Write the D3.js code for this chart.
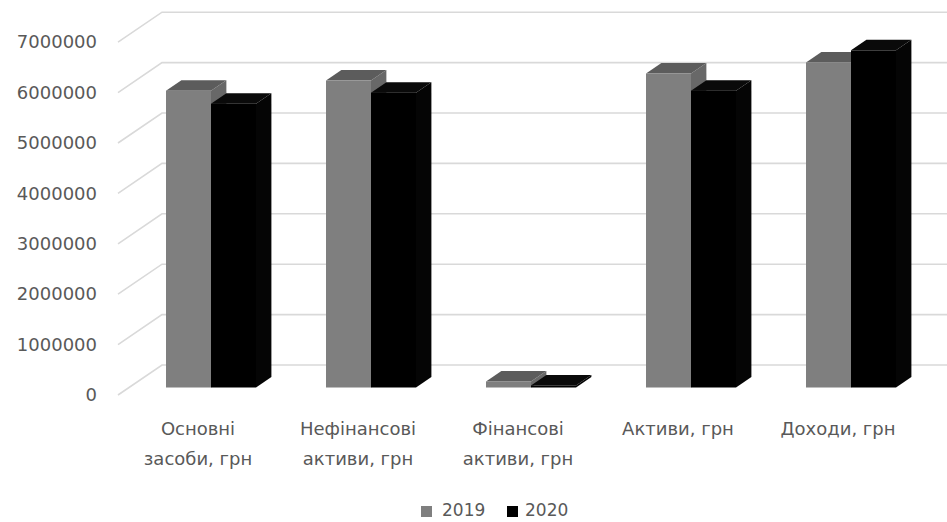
<!DOCTYPE html>
<html>
<head>
<meta charset="utf-8">
<script src="https://cdn.jsdelivr.net/npm/d3@7"></script>
<style>
  html, body { margin: 0; padding: 0; background: #fff; }
  svg { display: block; }
  text { font-family: "DejaVu Sans", sans-serif; fill: #595959; }
</style>
</head>
<body>
<svg id="chart" width="947" height="522"></svg>
<script>
// Chart data
const categories = ["Основні\nзасоби, грн", "Нефінансові\nактиви, грн", "Фінансові\nактиви, грн", "Активи, грн", "Доходи, грн"];
const seriesNames = ["2019", "2020"];
const values2019 = [5890000, 6090000, 120000, 6230000, 6450000];
const values2020 = [5630000, 5850000, 40000, 5890000, 6690000];
const yTicks = [0, 1000000, 2000000, 3000000, 4000000, 5000000, 6000000, 7000000];

const series = [
  { name: seriesNames[0], values: values2019, front: "#7f7f7f", top: "#5c5c5c", side: "#686868" },
  { name: seriesNames[1], values: values2020, front: "#000000", top: "#0a0a0a", side: "#050505" }
];

const W = 947, H = 522;
const svg = d3.select("#chart");

// Oblique 3D projection: floor depth vector and the slice of it the bars occupy
const depth = { dx: 44, dy: -30 };
const barFront = 0.25, barBack = 0.6;

// Front-plane scales
const x = d3.scaleBand().domain(categories).range([118, 918]).padding(0);
const y = d3.scaleLinear().domain([0, 7000000]).range([395, 42.2]);

// Gridlines: short slanted segment across the side wall, then along the back wall
const grid = svg.append("g");
yTicks.forEach(t => {
  const yf = y(t);
  grid.append("path")
    .attr("d", `M${x.range()[0]},${yf} L${x.range()[0] + depth.dx},${yf + depth.dy} L${W},${yf + depth.dy}`)
    .attr("fill", "none")
    .attr("stroke", "#d9d9d9")
    .attr("stroke-width", 1.6);
});

// Y axis tick labels
const yAxis = d3.axisLeft(y).tickValues(yTicks).tickFormat(d3.format("d")).tickSize(0).tickPadding(0);
const yg = svg.append("g").attr("transform", "translate(97,0)").call(yAxis);
yg.select(".domain").remove();
yg.selectAll("text")
  .attr("font-size", 18)
  .attr("fill", "#595959")
  .attr("font-family", "DejaVu Sans, sans-serif");

// Bars
const barW = 45, pairOffset = 37;
const ox = depth.dx * barFront, oy = depth.dy * barFront;
const bdx = depth.dx * (barBack - barFront), bdy = depth.dy * (barBack - barFront);

const bars = svg.append("g");
categories.forEach((c, ci) => {
  series.forEach((s, si) => {
    const v = s.values[ci];
    const x0 = x(c) + pairOffset + si * barW + ox;
    const x1 = x0 + barW;
    const yb = y(0) + oy;
    const yt = y(v) + oy;
    const g = bars.append("g");
    // side face
    g.append("path")
      .attr("d", `M${x1},${yt} L${x1 + bdx},${yt + bdy} L${x1 + bdx},${yb + bdy} L${x1},${yb} Z`)
      .attr("fill", s.side);
    // top face
    g.append("path")
      .attr("d", `M${x0},${yt} L${x0 + bdx},${yt + bdy} L${x1 + bdx},${yt + bdy} L${x1},${yt} Z`)
      .attr("fill", s.top);
    // front face
    g.append("rect")
      .attr("x", x0).attr("y", yt)
      .attr("width", barW).attr("height", yb - yt)
      .attr("fill", s.front);
  });
});

// Category labels
const labels = svg.append("g");
categories.forEach(c => {
  const lines = c.split("\n");
  const t = labels.append("text")
    .attr("x", x(c) + x.bandwidth() / 2)
    .attr("y", 435)
    .attr("text-anchor", "middle")
    .attr("font-size", 18);
  lines.forEach((ln, i) => {
    t.append("tspan")
      .attr("x", x(c) + x.bandwidth() / 2)
      .attr("dy", i === 0 ? 0 : 30)
      .text(ln);
  });
});

// Legend
const legend = svg.append("g");
const legendItems = [
  { name: series[0].name, color: series[0].front, sx: 421, tx: 442 },
  { name: series[1].name, color: series[1].front, sx: 507, tx: 525 }
];
legendItems.forEach(d => {
  legend.append("rect").attr("x", d.sx).attr("y", 506).attr("width", 11).attr("height", 11).attr("fill", d.color);
  legend.append("text").attr("x", d.tx).attr("y", 516).attr("font-size", 17).text(d.name);
});
</script>
</body>
</html>
